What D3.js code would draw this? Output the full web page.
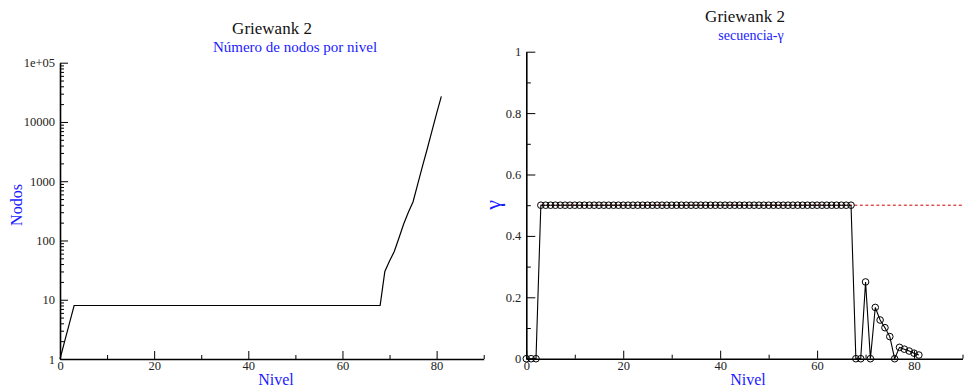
<!DOCTYPE html>
<html>
<head>
<meta charset="utf-8">
<script src="https://cdn.jsdelivr.net/npm/d3@7"></script>
<style>
  html, body { margin: 0; padding: 0; background: #fff; }
  svg text { font-family: "Liberation Serif", "DejaVu Serif", serif; }
  .axis path, .axis line { stroke: #000; }
  .axis text { font-size: 12.5px; fill: #222; }
</style>
</head>
<body>
<svg id="chart" width="964" height="388"></svg>
<script>
const SERIF = "Liberation Serif, DejaVu Serif, serif";

// Levels of the search tree (0..81)
const niveles = [
  0, 1, 2, 3, 4, 5, 6, 7, 8, 9, 10, 11, 12, 13, 14, 15, 16, 17, 18, 19,
  20, 21, 22, 23, 24, 25, 26, 27, 28, 29, 30, 31, 32, 33, 34, 35, 36, 37, 38, 39,
  40, 41, 42, 43, 44, 45, 46, 47, 48, 49, 50, 51, 52, 53, 54, 55, 56, 57, 58, 59,
  60, 61, 62, 63, 64, 65, 66, 67, 68, 69, 70, 71, 72, 73, 74, 75, 76, 77, 78, 79,
  80, 81
];

// Number of nodes per level
const nodos = [
  1, 2, 4, 8, 8, 8, 8, 8, 8, 8, 8, 8, 8, 8, 8, 8, 8, 8, 8, 8,
  8, 8, 8, 8, 8, 8, 8, 8, 8, 8, 8, 8, 8, 8, 8, 8, 8, 8, 8, 8,
  8, 8, 8, 8, 8, 8, 8, 8, 8, 8, 8, 8, 8, 8, 8, 8, 8, 8, 8, 8,
  8, 8, 8, 8, 8, 8, 8, 8, 8, 30, 45, 65, 110, 190, 300, 450, 900, 1800, 3500, 7000,
  14000, 27000
];

// gamma sequence per level
const gamma = [
  0, 0, 0, 0.5, 0.5, 0.5, 0.5, 0.5, 0.5, 0.5, 0.5, 0.5, 0.5, 0.5, 0.5, 0.5, 0.5, 0.5, 0.5, 0.5,
  0.5, 0.5, 0.5, 0.5, 0.5, 0.5, 0.5, 0.5, 0.5, 0.5, 0.5, 0.5, 0.5, 0.5, 0.5, 0.5, 0.5, 0.5, 0.5, 0.5,
  0.5, 0.5, 0.5, 0.5, 0.5, 0.5, 0.5, 0.5, 0.5, 0.5, 0.5, 0.5, 0.5, 0.5, 0.5, 0.5, 0.5, 0.5, 0.5, 0.5,
  0.5, 0.5, 0.5, 0.5, 0.5, 0.5, 0.5, 0.5, 0, 0, 0.25, 0, 0.167, 0.126, 0.101, 0.072, 0, 0.037, 0.031, 0.025,
  0.018, 0.012
];

const gammaRef = 0.5;

const xMajor = [0, 20, 40, 60, 80];
const xMinor = [10, 30, 50, 70, 90];
const logMajor = [1, 10, 100, 1000, 10000, 100000];
const logLabels = ["1", "10", "100", "1000", "10000", "1e+05"];
const gMajor = [0, 0.2, 0.4, 0.6, 0.8, 1];
const gMinor = [0.1, 0.3, 0.5, 0.7, 0.9];
const gLabels = ["0", "0.2", "0.4", "0.6", "0.8", "1"];

const svg = d3.select("#chart");

function serifAxis(s) {
  s.attr("font-family", SERIF).attr("font-size", 12.5);
}

function drawXAxis(g, x, y0) {
  g.append("g").attr("class", "axis").attr("transform", `translate(0,${y0})`)
    .call(d3.axisBottom(x).tickValues(xMinor).tickSize(-4).tickFormat(""))
    .call(s => s.select(".domain").remove());
  g.append("g").attr("class", "axis").attr("transform", `translate(0,${y0})`)
    .call(d3.axisBottom(x).tickValues(xMajor).tickSizeInner(-8).tickSizeOuter(0).tickPadding(2).tickFormat(d3.format("d")))
    .call(serifAxis)
    .call(s => s.select(".domain").attr("stroke-width", 1.6));
}

// ---------- Left panel: nodes per level (log scale) ----------
const xL = d3.scaleLinear().domain([0, 90]).range([60, 483.7]);
const yL = d3.scaleLog().domain([1, 100000]).range([359, 62.7]);
const left = svg.append("g");

const minorLog = [];
logMajor.slice(0, -1).forEach(d => { for (let k = 2; k <= 9; k++) minorLog.push(d * k); });

left.append("g").attr("class", "axis").attr("transform", `translate(${xL(0)},0)`)
  .call(d3.axisLeft(yL).tickValues(minorLog).tickSize(-4).tickFormat(""))
  .call(s => s.select(".domain").remove());
left.append("g").attr("class", "axis").attr("transform", `translate(${xL(0)},0)`)
  .call(d3.axisLeft(yL).tickValues(logMajor).tickSizeInner(-8).tickSizeOuter(0).tickPadding(5)
    .tickFormat((d, i) => logLabels[i]))
  .call(serifAxis)
  .call(s => s.select(".domain").attr("stroke-width", 1.6));
drawXAxis(left, xL, yL(1));

left.append("path")
  .datum(niveles.map((n, i) => [n, nodos[i]]))
  .attr("fill", "none").attr("stroke", "#000").attr("stroke-width", 1.2)
  .attr("d", d3.line().x(d => xL(d[0])).y(d => yL(d[1])));

function label(g, x, y, size, color, txt, rot) {
  const t = g.append("text").attr("text-anchor", "middle")
    .attr("font-family", SERIF).attr("font-size", size).attr("fill", color).text(txt);
  if (rot) t.attr("transform", `translate(${x},${y}) rotate(-90)`);
  else t.attr("x", x).attr("y", y);
  return t;
}

label(left, 272, 34, 17, "#111", "Griewank 2");
label(left, 295, 52, 15, "#1a1aff", "Número de nodos por nivel");
label(left, 22, 205, 16, "#1a1aff", "Nodos", true);
label(left, 276, 385, 16, "#1a1aff", "Nivel");

// ---------- Right panel: gamma sequence ----------
const xR = d3.scaleLinear().domain([0, 90]).range([526.3, 962.5]);
const yR = d3.scaleLinear().domain([0, 1]).range([358.7, 51.7]);
const right = svg.append("g");

right.append("g").attr("class", "axis").attr("transform", `translate(${xR(0)},0)`)
  .call(d3.axisLeft(yR).tickValues(gMinor).tickSize(-4.5).tickFormat(""))
  .call(s => s.select(".domain").remove());
right.append("g").attr("class", "axis").attr("transform", `translate(${xR(0)},0)`)
  .call(d3.axisLeft(yR).tickValues(gMajor).tickSizeInner(-9).tickSizeOuter(0).tickPadding(5)
    .tickFormat((d, i) => gLabels[i]))
  .call(serifAxis)
  .call(s => s.select(".domain").attr("stroke-width", 1.6));
drawXAxis(right, xR, yR(0));

// reference level
right.append("line")
  .attr("x1", xR(3)).attr("x2", xR(90)).attr("y1", yR(gammaRef)).attr("y2", yR(gammaRef))
  .attr("stroke", "#d00000").attr("stroke-width", 1).attr("stroke-dasharray", "3,2.5");

const gData = niveles.map((n, i) => [n, gamma[i]]);
right.append("path")
  .datum(gData)
  .attr("fill", "none").attr("stroke", "#000").attr("stroke-width", 1.1)
  .attr("d", d3.line().x(d => xR(d[0])).y(d => yR(d[1])));
right.append("g").selectAll("circle").data(gData).join("circle")
  .attr("cx", d => xR(d[0])).attr("cy", d => yR(d[1])).attr("r", 3.3)
  .attr("fill", "none").attr("stroke", "#000").attr("stroke-width", 1);

label(right, 745, 22, 17, "#111", "Griewank 2");
label(right, 751, 40, 14, "#1a1aff", "secuencia-γ");
label(right, 500, 205, 22, "#1a1aff", "γ", true);
label(right, 748, 385, 16, "#1a1aff", "Nivel");
</script>
</body>
</html>
